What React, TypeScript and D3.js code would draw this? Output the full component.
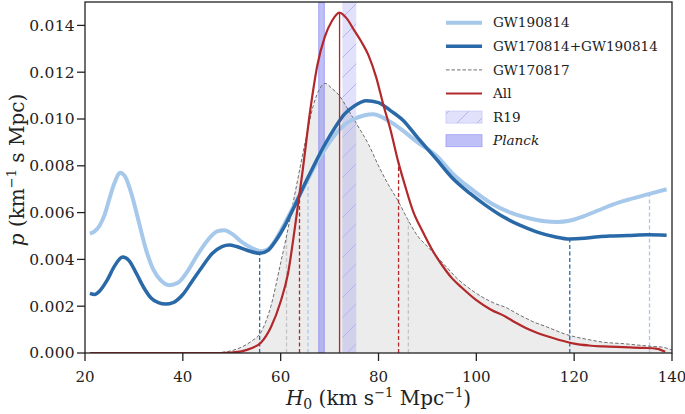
import React from 'react';
import * as d3 from 'd3';

// ---------- data (H0 in km/s/Mpc, p in 1/(km/s/Mpc)) ----------
const xTicks = [20, 40, 60, 80, 100, 120, 140];
const yTicks = [0, 0.002, 0.004, 0.006, 0.008, 0.01, 0.012, 0.014];

const gw190814H0 = [21, 22, 23, 24, 25, 26, 27.2, 28.3, 29.5, 31, 32.5, 34, 35.5, 37.2, 39, 41, 43, 45, 47, 48.5, 50, 52, 54, 56, 57.5, 59, 61, 63, 65, 67, 69, 71, 73, 75, 77, 79, 81, 83, 85, 88, 92, 95, 99, 103, 107, 111, 114, 116.5, 119, 122, 125, 128, 131, 135.4, 138.9];
const gw190814P = [0.0051, 0.0052, 0.00545, 0.0059, 0.0066, 0.00725, 0.0077, 0.0075, 0.0068, 0.0056, 0.0044, 0.00355, 0.0031, 0.0029, 0.003, 0.0035, 0.0042, 0.0048, 0.0052, 0.00525, 0.0051, 0.00475, 0.0045, 0.00435, 0.00445, 0.00485, 0.0056, 0.0064, 0.0072, 0.008, 0.0087, 0.0093, 0.00975, 0.01, 0.01015, 0.0102, 0.01005, 0.0098, 0.0095, 0.009, 0.0084, 0.0077, 0.007, 0.0064, 0.006, 0.00575, 0.00563, 0.0056, 0.00565, 0.00585, 0.0061, 0.00635, 0.00655, 0.0068, 0.007];

const combH0 = [21, 22, 23, 24.5, 26, 27.7, 29, 30.5, 32, 33.5, 35, 36.5, 38, 40, 42, 44, 46, 48, 49.5, 51, 53, 55.7, 57.5, 59, 61, 63, 65, 67, 69, 71, 73, 75, 77.5, 80, 82.5, 85, 88, 92, 95, 98.7, 102, 105.5, 109, 112.3, 116, 119.1, 122, 125, 128, 131, 135, 138.9];
const combP = [0.00255, 0.0025, 0.00265, 0.0031, 0.0037, 0.0041, 0.00395, 0.0034, 0.0028, 0.00235, 0.00215, 0.00209, 0.00215, 0.0025, 0.0031, 0.0037, 0.00425, 0.00455, 0.00462, 0.00455, 0.0044, 0.00426, 0.0044, 0.0048, 0.0055, 0.00635, 0.00725, 0.0081, 0.0089, 0.0096, 0.0102, 0.01055, 0.01078, 0.0107, 0.01035, 0.00995, 0.0092, 0.00824, 0.0075, 0.00682, 0.0063, 0.00582, 0.00545, 0.00518, 0.00497, 0.00487, 0.0049, 0.00497, 0.005, 0.00502, 0.00505, 0.00503];

const gw170817H0 = [21, 46, 48, 50, 52, 54, 56, 58, 60, 61.2, 63, 65, 66.7, 68, 69.1, 70.5, 72, 73.5, 75.5, 78, 80, 82, 84, 86, 88, 90, 92, 94, 96, 98, 100, 102, 104, 106, 108, 110, 112, 114, 116, 118, 120, 123, 126, 130, 133, 136, 138, 140];
const gw170817P = [0, 0, 0.00003, 0.0001, 0.00025, 0.0005, 0.0009, 0.002, 0.00385, 0.005, 0.0069, 0.009, 0.0106, 0.0113, 0.01152, 0.0113, 0.011, 0.0105, 0.0098, 0.0089, 0.008, 0.0072, 0.0065, 0.0057, 0.005, 0.00455, 0.0041, 0.00365, 0.0032, 0.00285, 0.00255, 0.0023, 0.0021, 0.00195, 0.00172, 0.0015, 0.0013, 0.00115, 0.00098, 0.00082, 0.0007, 0.00057, 0.00046, 0.0004, 0.00034, 0.00028, 0.00025, 0.00013];

const allH0 = [21, 48, 50, 52, 54, 56, 58, 60, 61.5, 63, 64.5, 66, 67.5, 69, 70.5, 72, 73.5, 75, 76.5, 78, 79.5, 81, 82.5, 84, 85.5, 87, 89, 91, 93, 95, 97, 100, 103, 106, 108, 110, 112, 114, 116, 118, 120, 123, 126, 130, 134, 137, 138.6];
const allP = [0, 0, 0.00002, 0.00007, 0.0002, 0.00045, 0.0011, 0.0022, 0.0034, 0.0055, 0.0078, 0.0103, 0.0123, 0.0135, 0.0142, 0.01455, 0.0143, 0.0138, 0.0133, 0.0127, 0.0118, 0.0106, 0.0095, 0.0082, 0.0071, 0.0061, 0.0052, 0.0044, 0.00375, 0.0032, 0.0028, 0.00226, 0.00185, 0.00155, 0.0013, 0.00108, 0.0009, 0.00075, 0.00062, 0.0005, 0.0004, 0.00032, 0.00028, 0.00025, 0.00022, 0.00018, 0.00005];

const allMedian = 72.04;
const allInterval = [63.85, 84.1];
const gw170817Interval = [61.2, 86.1];
const gw190814Interval = [65.6, 135.4];
const combInterval = [55.7, 119.1];

const r19Band = [72.61, 75.45];
const planckBand = [67.8, 68.9];

const legendLabels = ['GW190814', 'GW170814+GW190814', 'GW170817', 'All', 'R19', 'Planck'];

// ---------- styling ----------
const W = 685;
const H = 414;
const M = { left: 85, right: 672, top: 2, bottom: 353 };
const LIGHT = '#a6c8eb';
const DARK = '#2a69a8';
const RED = '#b2282b';
const GREY = '#6e6e6e';
const FONT = "'DejaVu Serif', serif";
const TXT: React.CSSProperties = { fontFamily: FONT };

const zip = (xs: number[], ys: number[]) => xs.map((x, i) => [x, ys[i]] as [number, number]);
const interp = (xs: number[], ys: number[], x: number) => {
  for (let i = 0; i < xs.length - 1; i++) {
    if (x >= xs[i] && x <= xs[i + 1]) {
      const t = (x - xs[i]) / (xs[i + 1] - xs[i]);
      return ys[i] + t * (ys[i + 1] - ys[i]);
    }
  }
  return 0;
};

export default function App() {
  const x = d3.scaleLinear().domain([20, 140]).range([M.left, M.right]);
  const y = d3.scaleLinear().domain([0, 0.015]).range([M.bottom, M.top]);

  const line = d3
    .line<[number, number]>()
    .x((d) => x(d[0]))
    .y((d) => y(d[1]))
    .curve(d3.curveMonotoneX);
  const area = d3
    .area<[number, number]>()
    .x((d) => x(d[0]))
    .y0(y(0))
    .y1((d) => y(d[1]))
    .curve(d3.curveMonotoneX);

  const light = zip(gw190814H0, gw190814P);
  const comb = zip(combH0, combP);
  const g17 = zip(gw170817H0, gw170817P);
  const all = zip(allH0, allP);

  const vLines: { x: number; p: number; color: string }[] = [
    ...combInterval.map((v) => ({ x: v, p: interp(combH0, combP, v), color: DARK })),
    ...gw170817Interval.map((v) => ({ x: v, p: interp(gw170817H0, gw170817P, v), color: '#c4c4c4' })),
    ...gw190814Interval.map((v) => ({ x: v, p: interp(gw190814H0, gw190814P, v), color: LIGHT })),
    ...allInterval.map((v) => ({ x: v, p: interp(allH0, allP, v), color: RED })),
  ];

  const legendY0 = 22.7;
  const legendDy = 23.6;
  const lx0 = 446;
  const lx1 = 482;
  const tx = 493;

  return (
    <svg
      width={W}
      height={H}
      style={{ position: 'absolute', left: 0, top: 0, background: '#fff', fontFamily: FONT }}
    >
      <defs>
        <clipPath id="plotclip">
          <rect x={M.left} y={M.top} width={M.right - M.left} height={M.bottom - M.top} />
        </clipPath>
        <pattern id="hatch" patternUnits="userSpaceOnUse" width={20} height={20}>
          <line x1={0} y1={20} x2={20} y2={0} stroke="#b4b4ee" strokeWidth={1} />
          <line x1={-5} y1={5} x2={5} y2={-5} stroke="#b4b4ee" strokeWidth={1} />
          <line x1={15} y1={25} x2={25} y2={15} stroke="#b4b4ee" strokeWidth={1} />
        </pattern>
      </defs>
      <rect x={0} y={0} width={W} height={H} fill="#fff" />

      <g clipPath="url(#plotclip)">
        <path d={area(g17) || ''} fill="#ececec" />
        {/* R19 */}
        <rect
          x={x(r19Band[0])}
          y={M.top}
          width={x(r19Band[1]) - x(r19Band[0])}
          height={M.bottom - M.top}
          fill="#6a6af0"
          fillOpacity={0.2}
        />
        <rect
          x={x(r19Band[0])}
          y={M.top}
          width={x(r19Band[1]) - x(r19Band[0])}
          height={M.bottom - M.top}
          fill="url(#hatch)"
        />
        {/* Planck */}
        <rect
          x={x(planckBand[0])}
          y={M.top}
          width={x(planckBand[1]) - x(planckBand[0])}
          height={M.bottom - M.top}
          fill="#6a6af0"
          fillOpacity={0.42}
          stroke="#8d8df2"
          strokeWidth={0.8}
        />
        {vLines.map((v, i) => (
          <line
            key={i}
            x1={x(v.x)}
            x2={x(v.x)}
            y1={y(0)}
            y2={y(v.p)}
            stroke={v.color}
            strokeWidth={1.3}
            strokeDasharray="4,2.5"
          />
        ))}
        <path d={line(g17) || ''} fill="none" stroke={GREY} strokeWidth={1} strokeDasharray="3.5,2" />
        <path d={line(light) || ''} fill="none" stroke={LIGHT} strokeWidth={4} strokeLinejoin="round" />
        <path d={line(comb) || ''} fill="none" stroke={DARK} strokeWidth={3.5} strokeLinejoin="round" />
        <path d={line(all) || ''} fill="none" stroke={RED} strokeWidth={2.2} strokeLinejoin="round" />
        <line
          x1={x(allMedian)}
          x2={x(allMedian)}
          y1={y(0)}
          y2={y(interp(allH0, allP, allMedian))}
          stroke={RED}
          strokeWidth={1.3}
        />
      </g>

      {/* spines */}
      <rect
        x={M.left}
        y={M.top}
        width={M.right - M.left}
        height={M.bottom - M.top}
        fill="none"
        stroke="#222"
        strokeWidth={1.3}
      />

      {/* x ticks */}
      {xTicks.map((t) => (
        <g key={t}>
          <line x1={x(t)} x2={x(t)} y1={M.bottom} y2={M.bottom + 8} stroke="#222" strokeWidth={1.3} />
          <text style={TXT} x={x(t)} y={382} textAnchor="middle" fontSize={15} fill="#222">
            {t}
          </text>
        </g>
      ))}
      {/* y ticks */}
      {yTicks.map((t) => (
        <g key={t}>
          <line x1={M.left - 8} x2={M.left} y1={y(t)} y2={y(t)} stroke="#222" strokeWidth={1.3} />
          <text style={TXT} x={75} y={y(t)} dy="0.35em" textAnchor="end" fontSize={15.5} fill="#222" letterSpacing={0.3}>
            {t.toFixed(3)}
          </text>
        </g>
      ))}

      {/* axis labels */}
      <text style={TXT} x={378.5} y={405} textAnchor="middle" fontSize={20} fill="#222">
        <tspan fontStyle="italic">H</tspan>
        <tspan fontSize={14} dy={4}>0</tspan>
        <tspan dy={-4}> (km s</tspan>
        <tspan fontSize={13} dy={-8}>−1</tspan>
        <tspan dy={8}> Mpc</tspan>
        <tspan fontSize={13} dy={-8}>−1</tspan>
        <tspan dy={8}>)</tspan>
      </text>
      <text style={TXT} transform="translate(24,170) rotate(-90)" textAnchor="middle" fontSize={20} fill="#222">
        <tspan fontStyle="italic">p</tspan>
        <tspan> (km</tspan>
        <tspan fontSize={13} dy={-8}>−1</tspan>
        <tspan dy={8}> s Mpc)</tspan>
      </text>

      {/* legend */}
      <g fill="#222">
        <line x1={lx0} x2={lx1} y1={legendY0} y2={legendY0} stroke={LIGHT} strokeWidth={4} />
        <line x1={lx0} x2={lx1} y1={legendY0 + legendDy} y2={legendY0 + legendDy} stroke={DARK} strokeWidth={3.5} />
        <line
          x1={lx0}
          x2={lx1}
          y1={legendY0 + 2 * legendDy}
          y2={legendY0 + 2 * legendDy}
          stroke={GREY}
          strokeWidth={1}
          strokeDasharray="3.5,2"
        />
        <line x1={lx0} x2={lx1} y1={legendY0 + 3 * legendDy} y2={legendY0 + 3 * legendDy} stroke={RED} strokeWidth={2.2} />
        <rect
          x={lx0}
          y={legendY0 + 4 * legendDy - 6}
          width={lx1 - lx0}
          height={12}
          fill="#6a6af0"
          fillOpacity={0.2}
          stroke="#c8c8f6"
          strokeWidth={0.8}
        />
        <rect x={lx0} y={legendY0 + 4 * legendDy - 6} width={lx1 - lx0} height={12} fill="url(#hatch)" />
        <rect
          x={lx0}
          y={legendY0 + 5 * legendDy - 6}
          width={lx1 - lx0}
          height={12}
          fill="#6a6af0"
          fillOpacity={0.42}
          stroke="#9d9df2"
          strokeWidth={0.8}
        />
        {legendLabels.map((lab, i) => (
          <text
            key={lab}
            style={TXT}
            x={tx}
            y={legendY0 + i * legendDy}
            dy="0.35em"
            fontSize={13.6}
            fontStyle={lab === 'Planck' ? 'italic' : 'normal'}
          >
            {lab}
          </text>
        ))}
      </g>
    </svg>
  );
}
